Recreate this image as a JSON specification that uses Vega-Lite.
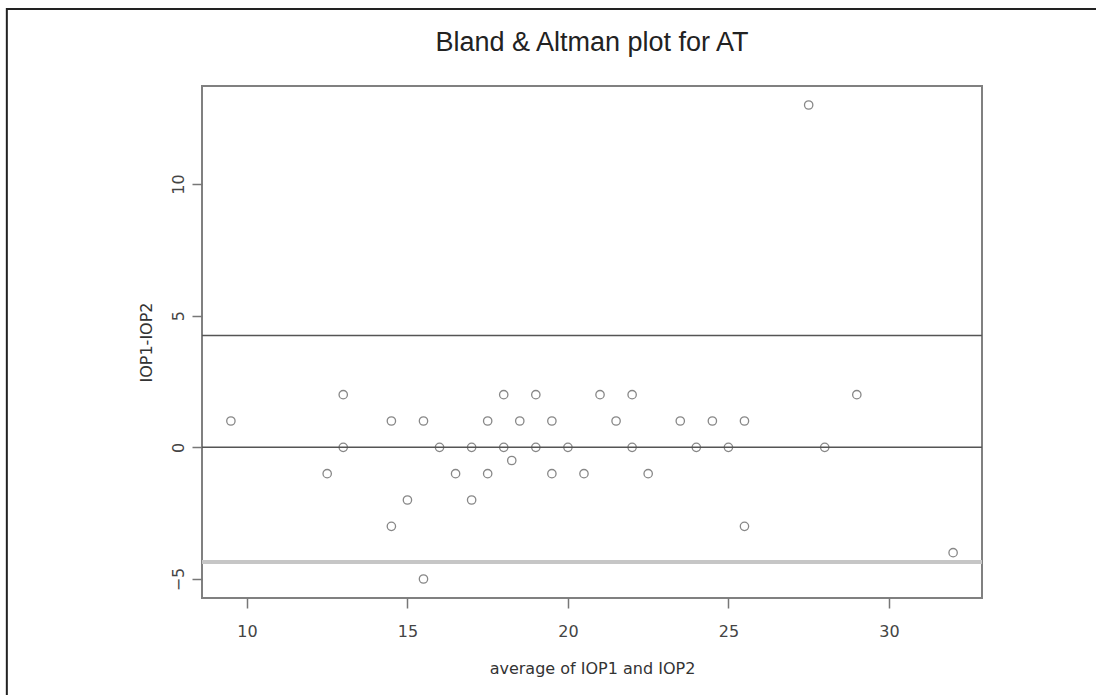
{
  "$schema": "https://vega.github.io/schema/vega-lite/v6.json",
  "width": 780,
  "height": 512,
  "autosize": "none",
  "padding": {"left": 202, "top": 86, "right": 114, "bottom": 97},
  "background": "white",
  "title": {"text": "Bland & Altman plot for AT", "fontSize": 27, "font": "Liberation Sans", "fontWeight": "normal", "color": "#222", "offset": -70, "baseline": "alphabetic", "anchor": "middle", "frame": "group"},
  "config": {
    "view": {"stroke": "#808080", "strokeWidth": 2},
    "axis": {"domain": false, "grid": false, "tickColor": "#777", "tickSize": 10, "tickWidth": 1.5, "labelFont": "DejaVu Sans", "labelFontSize": 16, "labelColor": "#444", "titleFont": "DejaVu Sans", "titleFontSize": 16, "titleFontWeight": "normal", "titleColor": "#333"}
  },
  "datasets": {
    "points": [
      {"avg": 9.5, "diff": 1}, {"avg": 12.5, "diff": -1}, {"avg": 13, "diff": 2}, {"avg": 13, "diff": 0},
      {"avg": 14.5, "diff": 1}, {"avg": 14.5, "diff": -3}, {"avg": 15, "diff": -2}, {"avg": 15.5, "diff": 1},
      {"avg": 15.5, "diff": -5}, {"avg": 16, "diff": 0}, {"avg": 16.5, "diff": -1}, {"avg": 17, "diff": 0},
      {"avg": 17, "diff": -2}, {"avg": 17.5, "diff": 1}, {"avg": 17.5, "diff": -1}, {"avg": 18, "diff": 2},
      {"avg": 18, "diff": 0}, {"avg": 18.25, "diff": -0.5}, {"avg": 18.5, "diff": 1}, {"avg": 19, "diff": 2},
      {"avg": 19, "diff": 0}, {"avg": 19.5, "diff": 1}, {"avg": 19.5, "diff": -1}, {"avg": 20, "diff": 0},
      {"avg": 20.5, "diff": -1}, {"avg": 21, "diff": 2}, {"avg": 21.5, "diff": 1}, {"avg": 22, "diff": 2},
      {"avg": 22, "diff": 0}, {"avg": 22.5, "diff": -1}, {"avg": 23.5, "diff": 1}, {"avg": 24, "diff": 0},
      {"avg": 24.5, "diff": 1}, {"avg": 25, "diff": 0}, {"avg": 25.5, "diff": 1}, {"avg": 25.5, "diff": -3},
      {"avg": 27.5, "diff": 13}, {"avg": 28, "diff": 0}, {"avg": 29, "diff": 2}, {"avg": 32, "diff": -4}
    ],
    "limits": [
      {"kind": "upper", "value": 4.25},
      {"kind": "mean", "value": 0},
      {"kind": "lower", "value": -4.35}
    ]
  },
  "layer": [
    {
      "data": {"values": [{}]},
      "mark": {"type": "rect", "fill": null, "stroke": "#222", "strokeWidth": 2, "clip": false},
      "encoding": {
        "x": {"datum": 2.52, "type": "quantitative", "scale": {"domain": [8.6, 32.9], "nice": false, "zero": false}},
        "x2": {"datum": 37},
        "y": {"datum": 16.64, "type": "quantitative", "scale": {"domain": [-5.72, 13.72], "nice": false, "zero": false}},
        "y2": {"datum": -10}
      }
    },
    {
      "data": {"name": "limits"},
      "transform": [{"filter": "datum.kind !== 'lower'"}],
      "mark": {"type": "rule", "color": "#555", "strokeWidth": 1.5},
      "encoding": {
        "y": {"field": "value", "type": "quantitative"}
      }
    },
    {
      "data": {"name": "limits"},
      "transform": [{"filter": "datum.kind === 'lower'"}],
      "mark": {"type": "rule", "color": "#c6c6c6", "strokeWidth": 4},
      "encoding": {
        "y": {"field": "value", "type": "quantitative"}
      }
    },
    {
      "data": {"name": "points"},
      "mark": {"type": "point", "shape": "circle", "filled": false, "stroke": "#555", "strokeWidth": 1.3, "size": 70},
      "encoding": {
        "x": {"field": "avg", "type": "quantitative", "title": "average of IOP1 and IOP2", "axis": {"values": [10, 15, 20, 25, 30], "labelPadding": 15, "titlePadding": 21}},
        "y": {"field": "diff", "type": "quantitative", "title": "IOP1-IOP2", "axis": {"values": [-5, 0, 5, 10], "labelAngle": -90, "labelPadding": 6, "titlePadding": 16}}
      }
    }
  ]
}
